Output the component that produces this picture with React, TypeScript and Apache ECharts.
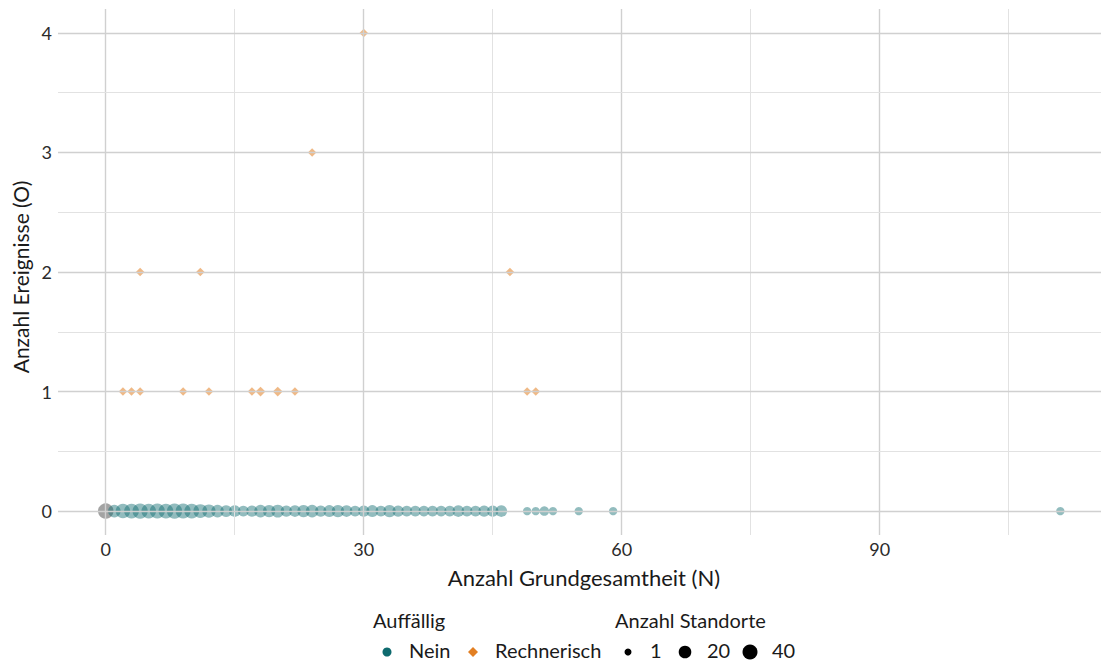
import React, { useEffect, useRef } from "react";
import * as echarts from "echarts";

// Teal points "Nein" (O = 0): N values and number of sites
const neinN = [1, 2, 3, 4, 5, 6, 7, 8, 9, 10, 11, 12, 13, 14, 15, 16, 17, 18, 19, 20, 21, 22, 23, 24, 25, 26, 27, 28, 29, 30, 31, 32, 33, 34, 35, 36, 37, 38, 39, 40, 41, 42, 43, 44, 45, 46, 49, 50, 51, 52, 55, 59, 111];
const neinCount = [20, 35, 38, 42, 36, 40, 38, 42, 40, 38, 30, 25, 20, 15, 14, 10, 12, 20, 18, 22, 12, 14, 18, 20, 12, 16, 18, 14, 10, 12, 16, 10, 18, 12, 10, 10, 9, 10, 9, 10, 14, 10, 10, 12, 12, 14, 2, 2, 5, 2, 2, 2, 2];

// Orange diamonds "Rechnerisch"
const rechN = [2, 3, 4, 9, 12, 17, 18, 20, 22, 49, 50, 4, 11, 47, 24, 30];
const rechO = [1, 1, 1, 1, 1, 1, 1, 1, 1, 1, 1, 2, 2, 2, 3, 4];
const rechCount = [1, 1, 1, 1, 1, 1, 2, 2, 1, 1, 1, 1, 1, 1, 1, 1];

// Grey point (no classification) at N = 0
const naN = [0];
const naO = [0];
const naCount = [45];

const xMajor = [0, 30, 60, 90];
const xMinor = [15, 45, 75, 105];
const yMajor = [0, 1, 2, 3, 4];
const yMinor = [0.5, 1.5, 2.5, 3.5];
const sizeLegend = [1, 20, 40];

const FONT = "Lato, 'DejaVu Sans', sans-serif";
const TEAL = "#0e6a6e";
const ORANGE = "#e27f22";

const sizeOf = (n: number) => 7 + 8.5 * Math.sqrt((n - 1) / 44);

export default function App() {
  const ref = useRef<HTMLDivElement>(null);
  useEffect(() => {
    if (!ref.current) return;
    const chart = echarts.init(ref.current, undefined, { renderer: "svg" });

    const major = { color: "#d0d0d0", width: 1.4, type: "solid" };
    const minor = { color: "#e2e2e2", width: 1, type: "solid" };
    const gridLines = [
      ...xMajor.map((v) => ({ xAxis: v, lineStyle: major })),
      ...xMinor.map((v) => ({ xAxis: v, lineStyle: minor })),
      ...yMajor.map((v) => ({ yAxis: v, lineStyle: major })),
      ...yMinor.map((v) => ({ yAxis: v, lineStyle: minor })),
    ];

    const LF = `20px ${FONT}`;
    const legendItems: any[] = [
      { type: "text", left: 373, top: 610, style: { text: "Auffällig", font: LF, fill: "#1a1a1a" } },
      { type: "circle", shape: { cx: 387, cy: 652, r: 4.5 }, style: { fill: TEAL } },
      { type: "text", left: 409, top: 640, style: { text: "Nein", font: LF, fill: "#1a1a1a" } },
      { type: "polygon", shape: { points: [[473, 647], [478, 652], [473, 657], [468, 652]] }, style: { fill: ORANGE } },
      { type: "text", left: 495, top: 640, style: { text: "Rechnerisch", font: LF, fill: "#1a1a1a" } },
      { type: "text", left: 615, top: 610, style: { text: "Anzahl Standorte", font: LF, fill: "#1a1a1a" } },
    ];
    const dotX = [628, 685, 750];
    const labX = [650, 707, 772];
    sizeLegend.forEach((n, i) => {
      legendItems.push({ type: "circle", shape: { cx: dotX[i], cy: 652, r: sizeOf(n) / 2 }, style: { fill: "#000" } });
      legendItems.push({ type: "text", left: labX[i], top: 640, style: { text: String(n), font: LF, fill: "#1a1a1a" } });
    });

    chart.setOption({
      animation: false,
      textStyle: { fontFamily: FONT },
      grid: { left: 58, right: 0, top: 9, bottom: 131, containLabel: false },
      xAxis: {
        type: "value",
        min: -5.55,
        max: 115.73,
        splitNumber: 4,
        axisLine: { show: false },
        axisTick: { show: false },
        splitLine: { show: false },
        axisLabel: {
          margin: 5,
          fontSize: 18,
          color: "#2b2b2b",
          fontFamily: FONT,
          showMinLabel: false,
          showMaxLabel: false,
          formatter: (v: number) => (xMajor.includes(v) ? String(v) : ""),
        },
      },
      yAxis: {
        type: "value",
        min: -0.2,
        max: 4.2,
        axisLine: { show: false },
        axisTick: { show: false },
        splitLine: { show: false },
        axisLabel: {
          margin: 6,
          fontSize: 18,
          color: "#2b2b2b",
          fontFamily: FONT,
          showMinLabel: false,
          showMaxLabel: false,
          formatter: (v: number) => (yMajor.includes(v) ? String(v) : ""),
        },
      },
      graphic: [
        {
          type: "text",
          x: 584,
          y: 577,
          style: { text: "Anzahl Grundgesamtheit (N)", font: `22px ${FONT}`, fill: "#1a1a1a", align: "center", verticalAlign: "middle" },
        },
        {
          type: "text",
          x: 20,
          y: 277,
          rotation: Math.PI / 2,
          style: { text: "Anzahl Ereignisse (O)", font: `21px ${FONT}`, fill: "#1a1a1a", align: "center", verticalAlign: "middle" },
        },
        ...legendItems,
      ],
      series: [
        {
          name: "grid",
          type: "scatter",
          data: [],
          silent: true,
          z: 0,
          markLine: { silent: true, symbol: "none", label: { show: false }, data: gridLines },
        },
        {
          name: "NA",
          type: "scatter",
          z: 2,
          data: naN.map((n, i) => [n, naO[i], naCount[i]]),
          symbol: "circle",
          symbolSize: (d: number[]) => sizeOf(d[2]),
          itemStyle: { color: "#6b6b6b", opacity: 0.62 },
        },
        {
          name: "Nein",
          type: "scatter",
          z: 3,
          data: neinN.map((n, i) => [n, 0, neinCount[i]]),
          symbol: "circle",
          symbolSize: (d: number[]) => sizeOf(d[2]),
          itemStyle: { color: TEAL, opacity: 0.45 },
        },
        {
          name: "Rechnerisch",
          type: "scatter",
          z: 3,
          data: rechN.map((n, i) => [n, rechO[i], rechCount[i]]),
          symbol: "diamond",
          symbolSize: (d: number[]) => sizeOf(d[2]) + 1.5,
          itemStyle: { color: ORANGE, opacity: 0.55 },
        },
      ],
    });
    return () => chart.dispose();
  }, []);
  return <div ref={ref} style={{ position: "absolute", left: 0, top: 0, width: 1101, height: 666 }} />;
}
